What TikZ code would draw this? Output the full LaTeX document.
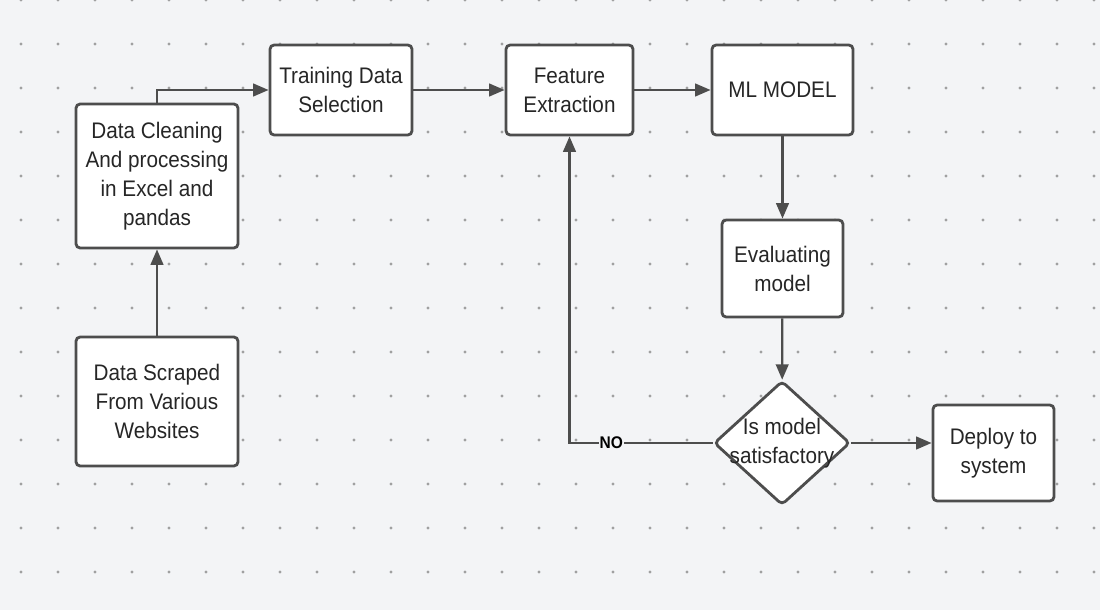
\documentclass[tikz,border=0pt]{standalone}
\usepackage{fontspec}
\setmainfont{Liberation Sans}[FakeStretch=0.92]
\usetikzlibrary{arrows.meta,shapes.geometric}
\definecolor{bgcol}{HTML}{F3F4F6}
\definecolor{edgecol}{HTML}{4D4D4D}
\definecolor{dotcol}{HTML}{A0A0A0}
\definecolor{txtcol}{HTML}{262626}
\begin{document}
\begin{tikzpicture}[x=0.025cm,y=-0.025cm,
    procbox/.style={draw=edgecol,line width=2pt,fill=white,rounded corners=3pt,
      align=center,inner sep=0pt,text=txtcol,font=\fontsize{16}{20.6}\selectfont},
    decbox/.style={diamond,draw=edgecol,line width=2pt,fill=white,rounded corners=3pt,
      inner sep=0pt,text=txtcol,font=\fontsize{16}{20.6}\selectfont},
    flow/.style={draw=edgecol,line width=1.6pt,-{Triangle[length=11pt,width=9pt]}}]
  % background and dot grid
  \fill[bgcol] (0,0) rectangle (1100,610);
  \useasboundingbox (0,0) rectangle (1100,610);
  \foreach \gx in {21,58,...,1100}
    \foreach \gy in {0,44,...,610}
      \fill[dotcol] (\gx,\gy) circle (1.1pt);
  % boxes
  \node (clean) at (157,176)[procbox,minimum width=4.05cm,minimum height=3.6cm]
    {Data Cleaning\\And processing\\in Excel and\\pandas};
  \node (train) at (341,90)[procbox,minimum width=3.55cm,minimum height=2.25cm]
    {Training Data\\Selection};
  \node (feat) at (569.5,90)[procbox,minimum width=3.175cm,minimum height=2.25cm]
    {Feature\\Extraction};
  \node (model) at (782.5,90)[procbox,minimum width=3.525cm,minimum height=2.25cm]
    {ML MODEL};
  \node (eval) at (782.5,268.5)[procbox,minimum width=3.025cm,minimum height=2.425cm]
    {Evaluating\\model};
  \node (dia) at (782,443)[decbox,minimum width=3.4cm,minimum height=3.1cm,
    label={[align=center,text=txtcol,font=\fontsize{16}{20.6}\selectfont]center:Is model\\satisfactory}]{};
  \node (deploy) at (993.5,453)[procbox,minimum width=3.025cm,minimum height=2.4cm]
    {Deploy to\\system};
  \node (scraped) at (157,401.5)[procbox,minimum width=4.05cm,minimum height=3.225cm]
    {Data Scraped\\From Various\\Websites};
  % connectors
  \draw[flow] (scraped) -- (clean);
  \draw[flow] (clean.north) |- (train.west);
  \draw[flow] (train) -- (feat);
  \draw[flow] (feat) -- (model);
  \draw[flow] (model) -- (eval);
  \draw[flow] (eval) -- (dia);
  \draw[flow] (dia.west) -| node[pos=0.354,fill=bgcol,inner sep=0.5pt,text=black,
    font=\fontsize{12}{14}\selectfont\bfseries]{NO} (feat.south);
  \draw[flow] (dia.east) -- (dia.east -| deploy.west);
\end{tikzpicture}
\end{document}
